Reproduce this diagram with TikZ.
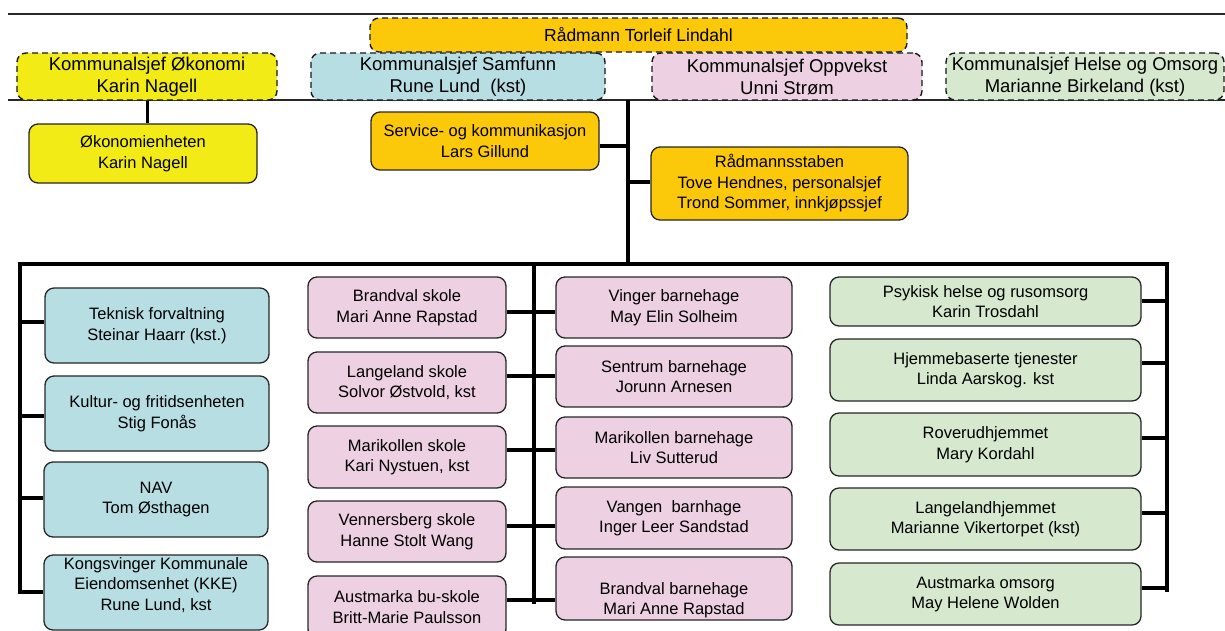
\documentclass[tikz,border=0pt]{standalone}
\usepackage{fontspec}
\setmainfont{Liberation Sans}
\definecolor{yelO}{RGB}{242,235,22}
\definecolor{goldO}{RGB}{252,200,10}
\definecolor{blueL}{RGB}{183,222,227}
\definecolor{pinkL}{RGB}{237,208,226}
\definecolor{greenL}{RGB}{214,232,206}
\definecolor{lineC}{RGB}{40,40,40}
\tikzset{
  box/.style={draw=black!85, line width=1.3pt, rounded corners=9pt, inner sep=0pt, align=center,
    font=\fontsize{16.5}{20.5}\selectfont},
  topbox/.style={box, draw=black!90, line width=1.4pt, dashed, dash pattern=on 6pt off 4pt, font=\fontsize{18.5}{22}\selectfont},
  bus/.style={line width=4.3pt, line cap=rect, black},
  conn/.style={line width=4pt, black},
  rule/.style={line width=1.8pt, lineC},
  txt/.style={inner sep=0pt, align=center, font=\fontsize{16.5}{20.5}\selectfont},
}
\begin{document}
\begin{tikzpicture}[x=1pt,y=-1pt]
\useasboundingbox (0,0) rectangle (1225,630);
% horizontal rules
\coordinate (r1a) at (8,14); \coordinate (r1b) at (1225,14);
\coordinate (r2a) at (8,100); \coordinate (r2b) at (1225,100);
\draw[rule] (r1a) -- (r1b);
\draw[rule, line width=1.5pt] (r2a) -- (r2b);
% top boxes
\node[topbox, fill=goldO, minimum width=537pt, minimum height=34pt, font=\fontsize{17.5}{21}\selectfont] (rad) at (638.5,35) {Rådmann Torleif Lindahl};
\node[topbox, fill=yelO, minimum width=260pt, minimum height=47pt] (oko) at (147,76.5) {Kommunalsjef Økonomi\\Karin Nagell};
\node[topbox, fill=blueL, minimum width=294pt, minimum height=47pt] (sam) at (458,76.5) {Kommunalsjef Samfunn\\Rune Lund\ \ (kst)};
\node[topbox, fill=pinkL, minimum width=270pt, minimum height=47pt] (opp) at (787,76.5) {Kommunalsjef Oppvekst\\Unni Strøm};
\node[topbox, fill=greenL, minimum width=278pt, minimum height=47pt] (hel) at (1085,76.5) {Kommunalsjef Helse og Omsorg\\Marianne Birkeland (kst)};
% staff level
\node[box, fill=yelO, minimum width=228pt, minimum height=59pt] (okoenh) at (143,153.5) {Økonomienheten\\Karin Nagell};
\node[box, fill=goldO, minimum width=228pt, minimum height=58pt] (svc) at (485,141) {Service- og kommunikasjon\\Lars Gillund};
\node[box, fill=goldO, minimum width=257pt, minimum height=73pt] (stab) at (779.5,183.5) {Rådmannsstaben\\Tove Hendnes, personalsjef\\Trond Sommer, innkjøpssjef};
% trunk and bus coordinates
\coordinate (t0) at (628,100);
\coordinate (tb) at (628,264);
\coordinate (busL) at (20,264);
\coordinate (busM) at (534,264);
\coordinate (busR) at (1167,264);
\coordinate (botL) at (20,592);
\coordinate (botM) at (534,602);
\coordinate (botR) at (1167,590);
% connectors at upper level
\draw[line width=3pt] (oko.south) -- (oko.south |- okoenh.north);
\draw[line width=3.6pt] (t0) -- (tb);
\draw[line width=3.6pt] (svc.east |- 0,146) -- (t0 |- 0,146);
\draw[line width=3.6pt] (stab.west |- 0,182) -- (t0 |- 0,182);
% bus
\draw[bus] (botL) -- (busL) -- (busR) -- (botR);
\draw[bus] (busM) -- (botM);
% blue column
\node[box, fill=blueL, minimum width=224pt, minimum height=75pt] (tek) at (157,325.5) {Teknisk forvaltning\\Steinar Haarr (kst.)};
\node[box, fill=blueL, minimum width=224pt, minimum height=75pt] (kul) at (157,413.5) {Kultur- og fritidsenheten\\Stig Fonås};
\node[box, fill=blueL, minimum width=224pt, minimum height=75pt] (nav) at (156,499.5) {NAV\\Tom Østhagen};
\node[box, fill=blueL, minimum width=224pt, minimum height=75pt] (kke) at (156,592.5) {};
\node[txt] (kket) at (156,585) {Kongsvinger Kommunale\\Eiendomsenhet (KKE)\\Rune Lund, kst};
% pink skoler
\node[box, fill=pinkL, minimum width=198pt, minimum height=61pt] (s1) at (407,307.5) {Brandval skole\\Mari Anne Rapstad};
\node[box, fill=pinkL, minimum width=198pt, minimum height=61pt] (s2) at (407,382.5) {Langeland skole\\Solvor Østvold, kst};
\node[box, fill=pinkL, minimum width=198pt, minimum height=62pt] (s3) at (407,457) {Marikollen skole\\Kari Nystuen, kst};
\node[box, fill=pinkL, minimum width=198pt, minimum height=61pt] (s4) at (407,531.5) {Vennersberg skole\\Hanne Stolt Wang};
\node[box, fill=pinkL, minimum width=198pt, minimum height=62pt] (s5) at (407,607) {Austmarka bu-skole\\Britt-Marie Paulsson};
% pink barnehager
\node[box, fill=pinkL, minimum width=236pt, minimum height=61pt] (b1) at (674,307.5) {Vinger barnehage\\May Elin Solheim};
\node[box, fill=pinkL, minimum width=236pt, minimum height=61pt] (b2) at (674,376.5) {Sentrum barnehage\\Jorunn Arnesen};
\node[box, fill=pinkL, minimum width=236pt, minimum height=61pt] (b3) at (674,447.5) {Marikollen barnehage\\Liv Sutterud};
\node[box, fill=pinkL, minimum width=236pt, minimum height=62pt] (b4) at (674,518) {Vangen\ \ barnhage\\Inger Leer Sandstad};
\node[box, fill=pinkL, minimum width=236pt, minimum height=63pt] (b5) at (674,588.5) {};
\node[txt] (b5t) at (674,600) {Brandval barnehage\\Mari Anne Rapstad};
% green column
\node[box, fill=greenL, minimum width=311pt, minimum height=49pt] (g1) at (985.5,301.5) {Psykisk helse og rusomsorg\\Karin Trosdahl};
\node[box, fill=greenL, minimum width=311pt, minimum height=62pt] (g2) at (985.5,370) {Hjemmebaserte tjenester\\Linda Aarskog. kst};
\node[box, fill=greenL, minimum width=311pt, minimum height=63pt] (g3) at (985.5,444.5) {Roverudhjemmet\\Mary Kordahl};
\node[box, fill=greenL, minimum width=311pt, minimum height=62pt] (g4) at (985.5,519) {Langelandhjemmet\\Marianne Vikertorpet (kst)};
\node[box, fill=greenL, minimum width=311pt, minimum height=62pt] (g5) at (985.5,594) {Austmarka omsorg\\May Helene Wolden};
% blue connectors
\foreach \n/\y in {tek/322, kul/416, nav/498, kke/592}
  \draw[conn] (busL |- 0,\y) -- (\n.west |- 0,\y);
% middle connectors
\foreach \a/\b/\y in {s1/b1/312, s2/b2/376, s3/b3/450, s4/b4/526, s5/b5/600}
  \draw[conn] (\a.east |- 0,\y) -- (\b.west |- 0,\y);
% green connectors
\foreach \n/\y in {g1/301, g2/363, g3/438, g4/513, g5/588}
  \draw[conn] (\n.east |- 0,\y) -- (busR |- 0,\y);
\end{tikzpicture}
\end{document}
